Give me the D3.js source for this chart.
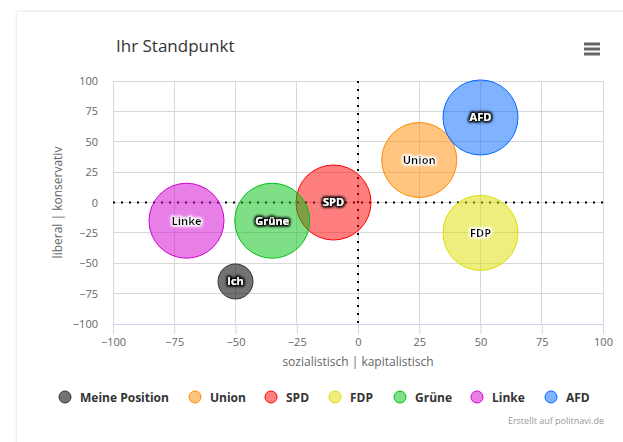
<!DOCTYPE html>
<html>
<head>
<meta charset="utf-8">
<script src="https://cdn.jsdelivr.net/npm/d3@7"></script>
<style>
  html, body { margin: 0; padding: 0; background: #fff; width: 623px; height: 442px; overflow: hidden; }
  #card { position: absolute; left: 17px; top: 12px; width: 640px; height: 460px; background: #fff;
          box-shadow: 0 0 3px rgba(0,0,0,0.18); }
  svg { position: absolute; left: 0; top: 0; }
</style>
</head>
<body>
<div id="card"></div>
<svg id="chart" width="623" height="442"></svg>
<script>
// ---- data ----
const names   = ["Ich", "Union", "SPD", "FDP", "Grüne", "Linke", "AFD"];
const legendNames = ["Meine Position", "Union", "SPD", "FDP", "Grüne", "Linke", "AFD"];
const xValues = [-50, 25, -10, 50, -35, -70, 50];
const yValues = [-65, 35, 0, -25, -15, -15, 70];
const zValues = [1, 2, 2, 2, 2, 2, 2];
const tickValues = [-100, -75, -50, -25, 0, 25, 50, 75, 100];
const xTitle = "sozialistisch | kapitalistisch";
const yTitle = "liberal | konservativ";
const chartTitle = "Ihr Standpunkt";
const credit = "Erstellt auf politnavi.de";

// ---- styles ----
const colors = ["#000000", "#ff8a00", "#ff0000", "#dddd00", "#00c010", "#d000d0", "#0066ff"];
const fillOpacity = [0.55, 0.5, 0.5, 0.5, 0.5, 0.5, 0.5];
const strokeColors = ["#333333", "#ff8a00", "#ff0000", "#dddd00", "#00c010", "#d000d0", "#0066ff"];
const darkLabel = { "Union": true, "FDP": true, "Linke": true };

const svg = d3.select("#chart");
const font = "'Open Sans', sans-serif";
const plot = { left: 113, right: 603, top: 81, bottom: 324 };

const x = d3.scaleLinear().domain([-100, 100]).range([plot.left, plot.right]);
const y = d3.scaleLinear().domain([-100, 100]).range([plot.bottom, plot.top]);
const r = d3.scaleLinear().domain([1, 2]).range([17.5, 37.5]);

// filters for label glow
const defs = svg.append("defs");
function glow(id, col) {
  const f = defs.append("filter").attr("id", id).attr("x", "-30%").attr("y", "-50%").attr("width", "160%").attr("height", "200%");
  f.append("feMorphology").attr("in", "SourceAlpha").attr("operator", "dilate").attr("radius", 1).attr("result", "d");
  f.append("feGaussianBlur").attr("in", "d").attr("stdDeviation", 1.8).attr("result", "b");
  f.append("feFlood").attr("flood-color", col).attr("result", "c");
  f.append("feComposite").attr("in", "c").attr("in2", "b").attr("operator", "in").attr("result", "g");
  const m = f.append("feMerge");
  m.append("feMergeNode").attr("in", "g");
  m.append("feMergeNode").attr("in", "g");
  m.append("feMergeNode").attr("in", "SourceGraphic");
}
glow("glowDark", "#000");
glow("glowLight", "#fff");

// title
svg.append("text").attr("x", 116).attr("y", 52).attr("font-family", font).attr("font-size", 17)
  .attr("fill", "#333").text(chartTitle);

// menu icon
[44, 49, 54].forEach(yy => svg.append("line").attr("x1", 584).attr("x2", 600).attr("y1", yy).attr("y2", yy)
  .attr("stroke", "#666").attr("stroke-width", 3));

// grid
const g = svg.append("g");
g.selectAll(".vg").data(tickValues).join("line")
  .attr("x1", d => x(d)).attr("x2", d => x(d)).attr("y1", plot.top).attr("y2", plot.bottom)
  .attr("stroke", "#d8d8d8").attr("stroke-width", 1).attr("shape-rendering", "crispEdges");
g.selectAll(".hg").data(tickValues).join("line")
  .attr("x1", plot.left).attr("x2", plot.right).attr("y1", d => y(d)).attr("y2", d => y(d))
  .attr("stroke", "#d8d8d8").attr("stroke-width", 1).attr("shape-rendering", "crispEdges");

// x axis
const xAxis = d3.axisBottom(x).tickValues(tickValues).tickSize(10).tickPadding(4)
  .tickFormat(d => d < 0 ? "\u2212" + Math.abs(d) : d);
const xa = svg.append("g").attr("transform", `translate(0,${plot.bottom})`).call(xAxis);
xa.select(".domain").attr("stroke", "#ccd6eb");
xa.selectAll(".tick line").attr("stroke", "#ccd6eb");
xa.selectAll("text").attr("font-family", font).attr("font-size", 11).attr("fill", "#666").attr("dy", "0.7em");

// y axis
const yAxis = d3.axisLeft(y).tickValues(tickValues).tickSize(0).tickPadding(15)
  .tickFormat(d => d < 0 ? "\u2212" + Math.abs(d) : d);
const ya = svg.append("g").attr("transform", `translate(${plot.left},0)`).call(yAxis);
ya.select(".domain").remove();
ya.selectAll("text").attr("font-family", font).attr("font-size", 11).attr("fill", "#666");

// axis titles
svg.append("text").attr("x", (plot.left + plot.right) / 2).attr("y", 366).attr("text-anchor", "middle")
  .attr("font-family", font).attr("font-size", 12).attr("fill", "#666").text(xTitle);
svg.append("text").attr("transform", `translate(62,${(plot.top + plot.bottom) / 2}) rotate(-90)`)
  .attr("text-anchor", "middle").attr("font-family", font).attr("font-size", 12).attr("fill", "#666").text(yTitle);

// plot lines (dotted)
svg.append("line").attr("x1", x(0)).attr("x2", x(0)).attr("y1", plot.top).attr("y2", plot.bottom)
  .attr("stroke", "#000").attr("stroke-width", 2).attr("stroke-dasharray", "2,6");
svg.append("line").attr("x1", plot.left).attr("x2", plot.right).attr("y1", y(0)).attr("y2", y(0))
  .attr("stroke", "#000").attr("stroke-width", 2).attr("stroke-dasharray", "2,6");

// bubbles
const pts = names.map((n, i) => ({ n, i, x: xValues[i], y: yValues[i], z: zValues[i] }));
const bg = svg.append("g");
bg.selectAll("circle").data(pts).join("circle")
  .attr("cx", d => x(d.x)).attr("cy", d => y(d.y)).attr("r", d => r(d.z))
  .attr("fill", d => colors[d.i]).attr("fill-opacity", d => fillOpacity[d.i])
  .attr("stroke", d => strokeColors[d.i]).attr("stroke-width", 1);

bg.selectAll("text").data(pts).join("text")
  .attr("x", d => x(d.x)).attr("y", d => y(d.y)).attr("dy", "0.35em").attr("text-anchor", "middle")
  .attr("font-family", font).attr("font-size", 11).attr("font-weight", "bold")
  .attr("fill", d => darkLabel[d.n] ? "#000" : "#fff")
  .attr("filter", d => darkLabel[d.n] ? "url(#glowLight)" : "url(#glowDark)")
  .text(d => d.n);

// legend
const legendX = [65, 195, 271, 335, 400, 477, 551];
const lg = svg.append("g");
legendNames.forEach((n, i) => {
  lg.append("circle").attr("cx", legendX[i]).attr("cy", 397).attr("r", 6)
    .attr("fill", colors[i]).attr("fill-opacity", fillOpacity[i]).attr("stroke", strokeColors[i]).attr("stroke-width", 1);
  lg.append("text").attr("x", legendX[i] + 15).attr("y", 401.5).attr("font-family", font)
    .attr("font-size", 12).attr("font-weight", "bold").attr("fill", "#333").text(n);
});

// credits
svg.append("text").attr("x", 604).attr("y", 424).attr("text-anchor", "end").attr("font-family", font)
  .attr("font-size", 9).attr("fill", "#999").text(credit);
</script>
</body>
</html>
